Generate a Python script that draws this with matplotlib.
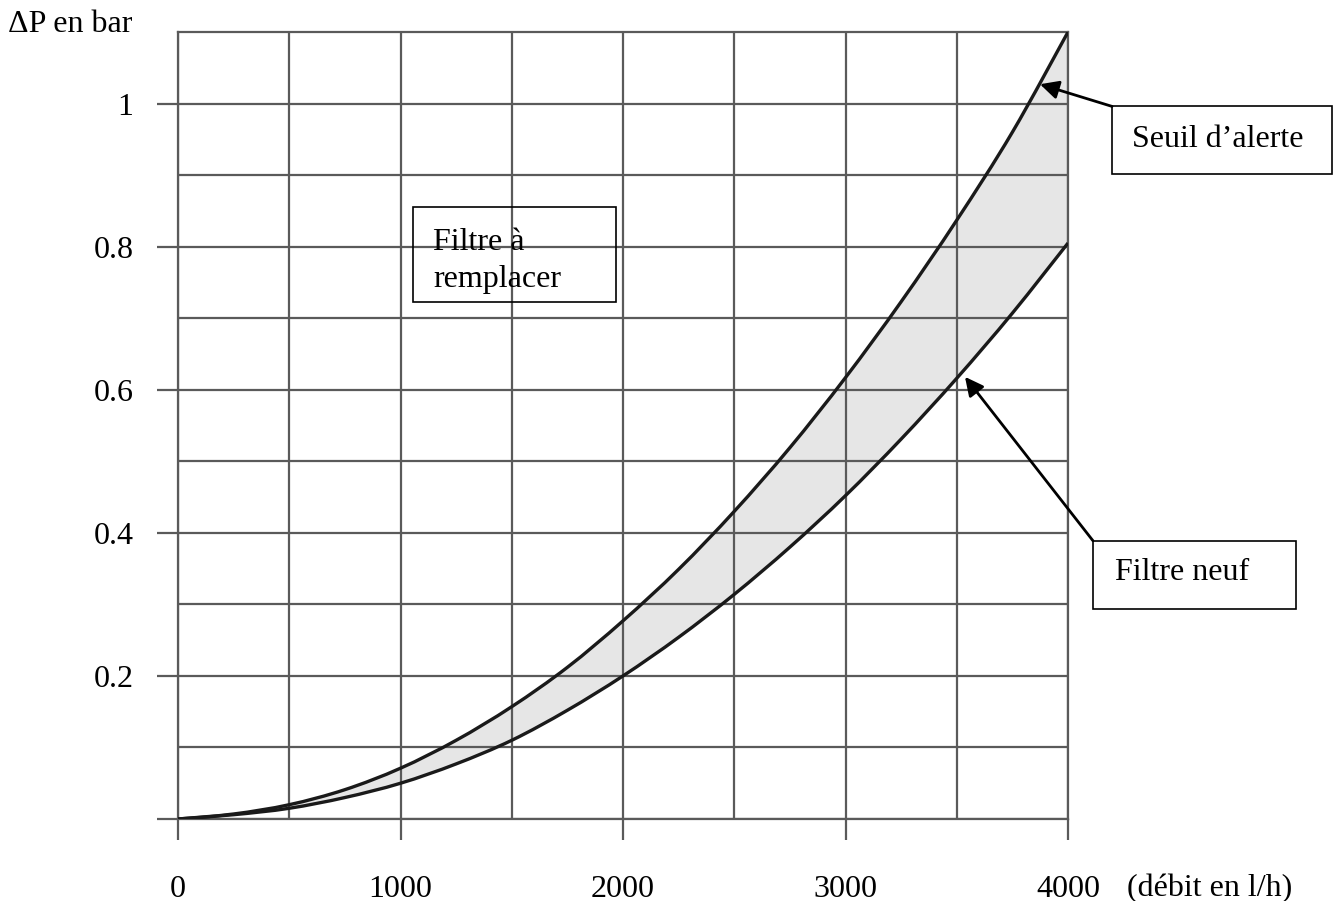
import matplotlib.pyplot as plt
from matplotlib.patches import Rectangle, PathPatch
from matplotlib.path import Path

# debit (l/h) and pressure drop (bar)
debit = [0, 250, 500, 750, 1000, 1250, 1500, 1750, 2000, 2250, 2500,
         2750, 3000, 3250, 3500, 3750, 4000]
dp_neuf = [0, 0.006, 0.015, 0.030, 0.050, 0.077, 0.110, 0.152, 0.200,
           0.254, 0.314, 0.380, 0.452, 0.531, 0.616, 0.707, 0.805]
dp_alerte = [0, 0.007, 0.020, 0.041, 0.071, 0.110, 0.157, 0.212, 0.277,
             0.349, 0.430, 0.519, 0.617, 0.723, 0.837, 0.960, 1.100]

x_major = [0, 1000, 2000, 3000, 4000]
x_minor = [500, 1500, 2500, 3500]
y_major = [0, 0.2, 0.4, 0.6, 0.8, 1.0]
y_labels = ['', '0.2', '0.4', '0.6', '0.8', '1']
y_minor = [0.1, 0.3, 0.5, 0.7, 0.9]

plt.rcParams['font.family'] = ['Liberation Serif', 'DejaVu Serif']
fs = 23
grid_col = '#5a5a5a'


def smooth_path(xs, ys):
    # Catmull-Rom through the read points, as cubic Bezier segments
    verts = [(xs[0], ys[0])]
    codes = [Path.MOVETO]
    n = len(xs)
    for i in range(n - 1):
        x0, y0 = (xs[i - 1], ys[i - 1]) if i > 0 else (xs[i], ys[i])
        x1, y1 = xs[i], ys[i]
        x2, y2 = xs[i + 1], ys[i + 1]
        x3, y3 = (xs[i + 2], ys[i + 2]) if i + 2 < n else (x2, y2)
        verts += [(x1 + (x2 - x0) / 6, y1 + (y2 - y0) / 6),
                  (x2 - (x3 - x1) / 6, y2 - (y3 - y1) / 6),
                  (x2, y2)]
        codes += [Path.CURVE4] * 3
    return verts, codes


fig = plt.figure(figsize=(13.36, 9.01), dpi=100)
ax = fig.add_axes([178 / 1336, 82 / 901, 890 / 1336, 787 / 901])

v_up, c_up = smooth_path(debit, dp_alerte)
v_lo, c_lo = smooth_path(debit[::-1], dp_neuf[::-1])

# shaded band between new filter and alert threshold
band = Path(v_up + v_lo + [v_up[0]],
            c_up + [Path.LINETO] + c_lo[1:] + [Path.CLOSEPOLY])
ax.add_patch(PathPatch(band, facecolor='#e6e6e6', lw=0, zorder=1))
ax.add_patch(PathPatch(Path(v_up, c_up), fill=False, edgecolor='#1a1a1a',
                       lw=2.4, zorder=3))
ax.add_patch(PathPatch(Path(v_lo, c_lo), fill=False, edgecolor='#1a1a1a',
                       lw=2.4, zorder=3))

ax.set_xlim(0, 4000)
ax.set_ylim(0, 1.1)
ax.set_xticks(x_major)
ax.set_xticks(x_minor, minor=True)
ax.set_yticks(y_major)
ax.set_yticklabels(y_labels)
ax.set_yticks(y_minor, minor=True)
ax.grid(True, which='both', color=grid_col, lw=1.6, zorder=1.5)

ax.tick_params(which='major', length=15, width=1.6, color=grid_col,
               labelsize=fs, direction='out')
ax.tick_params(axis='y', which='major', pad=17)
ax.tick_params(axis='x', which='major', pad=25)
ax.tick_params(which='minor', length=0)
for s in ax.spines.values():
    s.set_color(grid_col)
    s.set_linewidth(1.6)

fig.text(8 / 1336, 1 - 25 / 901, '\u0394P en bar', fontsize=fs,
         ha='left', va='center')
fig.text(1127 / 1336, 1 - 889 / 901, '(débit en l/h)', fontsize=fs,
         ha='left', va='center')

# annotation boxes
box_kw = dict(fill=False, edgecolor='black', lw=1.2, clip_on=False, zorder=5)
ax.add_patch(Rectangle((1056, 0.722), 913, 0.134, **box_kw))
ax.text(1146, 0.780, 'Filtre à\nremplacer', fontsize=fs, ha='left',
        va='center', linespacing=1.4)

ax.add_patch(Rectangle((4198, 0.901), 989, 0.095, **box_kw))
ax.text(4674, 0.95, 'Seuil d\u2019alerte', fontsize=fs, ha='center',
        va='center', clip_on=False)

ax.add_patch(Rectangle((4112, 0.294), 913, 0.095, **box_kw))
ax.text(4211, 0.345, 'Filtre neuf', fontsize=fs, ha='left', va='center',
        clip_on=False)

arrow_kw = dict(arrowstyle='-|>', color='black', lw=2, mutation_scale=28,
                shrinkA=0, shrinkB=0)
ax.annotate('', xy=(3874, 1.027), xytext=(4198, 0.996),
            arrowprops=arrow_kw, annotation_clip=False)
ax.annotate('', xy=(3537, 0.618), xytext=(4112, 0.389),
            arrowprops=arrow_kw, annotation_clip=False)

fig.savefig('out.png', dpi=100)
